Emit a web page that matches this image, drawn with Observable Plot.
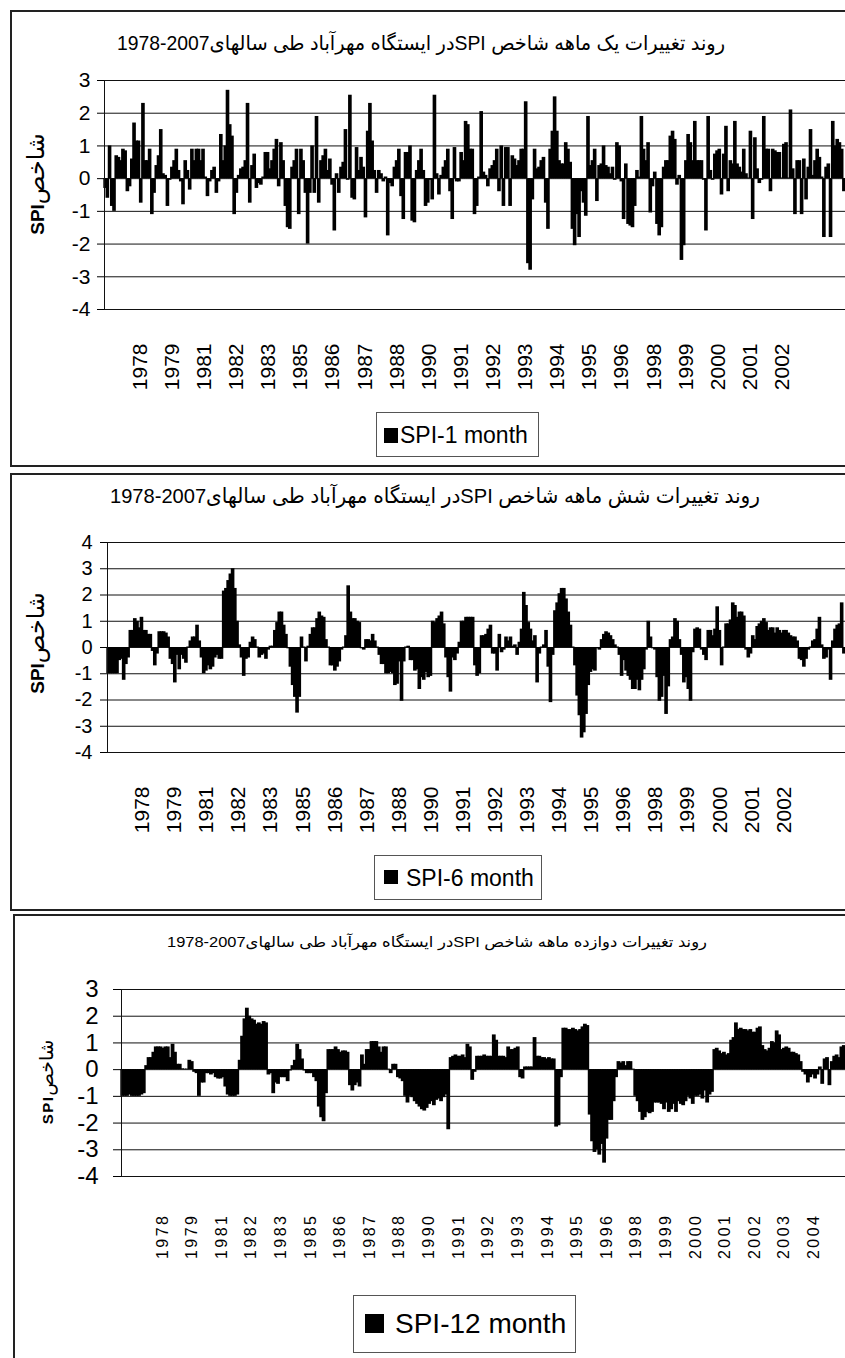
<!DOCTYPE html>
<html><head><meta charset="utf-8">
<script src="https://cdn.jsdelivr.net/npm/d3@7"></script>
<script src="https://cdn.jsdelivr.net/npm/@observablehq/plot@0.6"></script>
<style>
html,body{margin:0;padding:0;background:#fff;}
body{width:845px;height:1358px;overflow:hidden;position:relative;font-family:"Liberation Sans",Arial,"DejaVu Sans",sans-serif;color:#000;}
.box{position:absolute;border:2px solid #222;box-sizing:border-box;}
.title{position:absolute;white-space:nowrap;direction:rtl;line-height:1;}
.title .num{direction:ltr;unicode-bidi:isolate;}
.ytitle{position:absolute;white-space:nowrap;direction:ltr;line-height:1;transform:translate(-50%,-50%) rotate(-90deg);}
.ytitle .fa{font-size:1.25em;}
.legend{position:absolute;border:1px solid #555;box-sizing:border-box;background:#fff;}
.legend .sw{position:absolute;background:#000;}
.legend .lt{position:absolute;white-space:nowrap;line-height:1;}
</style></head><body>
<div class="box" style="left:10px;top:10px;width:900px;height:457px"></div>
<div class="box" style="left:10px;top:473px;width:900px;height:438px"></div>
<div class="box" style="left:13px;top:914px;width:900px;height:500px"></div>

<div class="title" data-w="608" style="left:421px;top:33px;font-size:20px">روند تغییرات یک ماهه شاخص SPIدر ایستگاه مهرآباد طی سالهای<span class="num">1978-2007</span></div>
<div class="title" data-w="650" style="left:435px;top:485px;font-size:21px">روند تغییرات شش ماهه شاخص SPIدر ایستگاه مهرآباد طی سالهای<span class="num">1978-2007</span></div>
<div class="title" data-w="540" style="left:437px;top:934px;font-size:15px">روند تغییرات دوازده ماهه شاخص SPIدر ایستگاه مهرآباد طی سالهای<span class="num">1978-2007</span></div>

<div class="ytitle" style="left:36px;top:184px;font-size:19px"><b>SPI</b><span class="fa">شاخص</span></div>
<div class="ytitle" style="left:36px;top:643px;font-size:19px"><b>SPI</b><span class="fa">شاخص</span></div>
<div class="ytitle" style="left:47px;top:1082px;font-size:15px;letter-spacing:1.5px"><b>SPI</b><span class="fa">شاخص</span></div>

<div class="legend" style="left:376px;top:412px;width:163px;height:45px">
  <div class="sw" style="left:7px;top:15px;width:14px;height:15px"></div>
  <div class="lt" style="left:23px;top:11px;font-size:23px">SPI-1 month</div>
</div>
<div class="legend" style="left:374px;top:855px;width:168px;height:45px">
  <div class="sw" style="left:9px;top:14px;width:14px;height:14px"></div>
  <div class="lt" style="left:31px;top:11px;font-size:23px">SPI-6 month</div>
</div>
<div class="legend" style="left:353px;top:1295px;width:223px;height:58px">
  <div class="sw" style="left:11px;top:18px;width:19px;height:19px"></div>
  <div class="lt" style="left:41px;top:14px;font-size:28px">SPI-12 month</div>
</div>

<script>
const yearLabels = ["1978","1979","1981","1982","1983","1985","1986","1987","1988","1990","1991","1992","1993","1994","1995","1996","1998","1999","2000","2001","2002"];
const yearLabels12 = ["1978","1979","1981","1982","1983","1985","1986","1987","1988","1990","1991","1992","1993","1994","1995","1996","1998","1999","2000","2001","2002","2003","2004"];
const yTicks7 = [-4,-3,-2,-1,0,1,2,3];
const yTicks8 = [-4,-3,-2,-1,0,1,2,3,4];

const spi1 = [-0.3,-0.6,1.0,-0.85,-1.0,0.7,0.65,0.55,0.9,0.85,-0.4,-0.25,0.6,1.7,1.15,1.15,-0.75,2.3,0.55,0.55,
0.9,-1.1,-0.45,0.4,0.7,1.5,0.15,0.1,-0.85,-0.05,0.35,0.55,0.9,0.25,-0.1,-0.8,0.55,0.25,-0.35,0.9,
0.55,0.9,0.9,0.55,0.9,0.05,-0.55,-0.1,0.25,0.35,-0.45,-0.1,1.35,0.55,1.0,2.7,1.65,1.3,-1.1,-0.45,
0.1,0.3,0.35,0.55,2.3,-0.75,0.4,0.75,-0.3,-0.15,-0.2,0.05,0.8,0.8,0.3,0.55,0.9,1.2,-0.25,1.1,
0.55,-0.85,-1.5,-1.55,0.35,0.55,0.9,-1.1,0.9,0.55,-0.45,-2.0,-0.45,1.0,-0.45,1.9,-0.75,0.55,0.7,0.9,
0.25,0.6,-0.2,-1.6,0.15,-0.45,0.35,0.5,1.5,-0.05,2.55,-0.6,-0.65,0.95,0.25,0.65,0.35,-1.2,1.45,2.3,
1.15,0.25,-0.45,0.25,0.15,-0.1,0.05,-1.75,-0.15,-0.25,0.35,0.55,0.9,-0.55,-1.25,0.8,0.8,1.0,-1.3,-1.35,
0.25,0.55,0.9,0.25,-0.85,-0.75,-0.05,-0.65,2.55,0.15,-0.5,0.1,0.35,0.55,0.9,-0.4,-1.25,0.95,-0.1,-0.1,
0.8,0.55,1.75,1.65,0.9,0.9,-1.1,-0.85,0.05,2.05,0.2,0.1,-0.25,0.3,0.4,0.55,0.9,-0.4,1.0,-0.85,
0.95,0.95,-0.85,0.7,0.6,0.4,0.55,0.9,0.9,2.35,-2.6,-2.8,-0.65,0.9,0.3,0.35,0.55,0.65,-0.75,-1.55,
0.9,1.45,2.5,1.45,0.55,0.45,0.45,1.1,0.9,0.5,-1.55,-2.05,-1.1,-1.8,-0.4,-0.75,-1.15,1.9,0.4,0.55,
0.9,-0.7,0.4,0.45,1.0,0.4,0.35,0.15,0.35,-0.05,1.1,1.0,-0.1,-1.25,0.45,-1.4,-1.45,-1.5,-0.85,0.25,
0.05,1.9,0.9,0.55,1.1,-1.05,-0.25,0.2,-1.4,-1.75,-1.5,0.35,0.55,0.55,1.3,1.45,1.2,-0.2,0.1,-2.5,
-2.05,0.55,1.35,1.1,0.55,1.75,0.55,0.55,0.55,-0.05,-1.6,1.9,0.25,-0.05,0.75,0.85,0.9,-0.5,0.75,1.6,
-0.4,0.55,0.45,1.75,0.45,0.35,0.2,0.9,0.15,0.02,1.45,-1.25,1.25,0.3,-0.15,-0.05,1.9,0.9,0.9,-0.4,
0.9,0.85,0.8,0.8,0.02,1.05,1.1,0.02,2.1,0.3,-1.1,0.55,0.55,-1.1,0.6,-0.65,0.35,1.5,0.1,0.55,
0.9,0.65,0.05,-1.8,0.35,0.45,-1.8,1.75,1.0,1.2,1.1,0.9,-0.4];

const spi6 = [-1,-1,-1,-1,-1,-0.5,-0.45,-1.25,-0.65,-0.4,0.65,0.65,1.1,1,0.75,1.15,0.65,0.65,0.5,0.5,
-0.15,-0.7,-0.25,0.6,0.6,0.6,0.55,0.4,-0.45,-0.65,-1.35,-0.3,-0.85,-0.3,-0.45,-0.6,0.02,0.25,0.4,0.4,
0.85,0.25,-0.4,-1,-0.9,-0.7,-0.85,-0.75,-0.4,-0.3,-0.45,-0.45,2.15,2.25,2.55,2.8,3,2.25,1,0.1,
-0.4,-1.1,-0.45,-0.4,0.2,0.4,0.3,0.02,-0.4,-0.3,-0.25,-0.45,-0.1,0.05,0.05,0.65,0.95,1.35,1.35,0.85,
0.5,-0.05,-0.75,-1.45,-1.9,-2.5,-1.9,0.4,0.02,-0.55,0.05,0.5,0.75,0.75,1.1,1.35,1.2,1.15,0.3,0.02,
-0.7,-0.7,-0.9,-0.75,-0.55,-0.1,0.02,0.45,2.35,1.35,1.1,1.1,1,0.95,-0.05,-0.1,0.3,0.3,0.25,0.5,
0.25,0.02,-0.3,-0.65,-0.65,-1,-1,-0.95,-1,-1.45,-1.4,-0.55,-2.05,-0.55,0.02,0.05,-0.5,-0.5,-0.9,-0.85,
-1.6,-1.15,-1.25,-0.95,-1.15,-1.1,1,0.95,1.1,1.2,1.35,0.9,-0.4,-1.15,-1.7,-0.4,-0.5,-0.25,0.2,1,
1,1.15,1.15,
1.15,1.15,-0.7,-1.1,-1,0.45,0.45,0.5,0.7,0.85,-0.25,-0.25,-0.9,0.5,-0.2,-0.1,0.4,0.25,0.4,0.05,
0.1,-0.3,0.2,0.7,2.1,1.6,0.95,0.7,0.25,0.45,-1.35,-0.25,0.02,0.1,0.65,-0.75,-2.1,-0.3,1.4,1.7,
2.05,2.25,2.25,1.85,1.35,0.85,0.02,-0.7,-1.85,-2.6,-3.45,-3.25,-2.55,-1.45,-0.95,-0.85,-0.9,-0.05,-0.1,0.3,
0.5,0.6,0.55,0.45,0.3,0.1,0.02,-0.3,-1.1,-0.5,-0.9,-1.1,-1.25,-1.6,-1.6,-1.25,-1.65,-1.25,-0.85,-0.1,
1,0.4,-0.05,-0.1,-1.15,-2.05,-1.9,-1.1,-2.55,-1.5,0.3,0.4,1.1,1,0.3,-0.3,-1.35,-1.15,-1.6,-2.05,
-0.2,0.7,0.75,0.7,-0.1,-0.3,-0.5,0.65,0.65,0.45,0.7,1.55,0.65,-0.7,0.02,0.9,0.9,1.05,1.7,1.6,
1.15,1.35,1.35,1.2,-0.1,-0.4,-0.25,0.45,0.3,0.8,0.9,1,1.1,0.95,0.65,0.75,0.75,0.55,0.75,0.65,
0.55,0.65,0.65,0.55,0.45,0.4,0.4,0.25,-0.45,-0.5,-0.75,-0.45,-0.1,0.02,0.25,0.3,0.7,1.15,0.1,-0.45,
-0.4,-0.1,-1.25,0.25,0.7,0.85,0.9,1.7,-0.25];

const spi12 = [-1,-1,-1,-0.95,-1,-1,-1,-1,-0.95,-0.9,
0.15,0.45,0.45,0.65,0.85,0.85,0.85,0.8,0.85,0.85,
0.45,0.95,0.65,0.2,0.2,0.03,0.02,0.02,0.35,0.3,
-0.1,-0.15,-1,-0.5,-0.5,-0.15,-0.15,-0.2,-0.15,-0.3,-0.35,-0.35,-0.3,-0.65,-0.95,-1,-1,-1,-0.95,
0.35,1.25,1.9,2.3,2,1.9,1.85,1.7,1.75,1.7,1.8,1.75,
-0.2,-0.15,-0.9,-0.5,-0.55,-0.3,-0.3,-0.3,-0.45,-0.05,
0.15,0.35,0.95,0.75,0.4,
-0.05,-0.15,-0.15,-0.15,-0.3,-0.45,-1.4,-1.8,-1.95,-0.9,
0.75,0.75,0.75,0.85,0.75,0.65,0.7,0.7,0.65,
-0.6,-0.8,-0.6,-0.5,-0.65,
0.55,0.2,0.75,0.75,1.05,1.05,1.05,0.85,0.65,0.85,0.85,0.02,-0.15,0.2,0.2,
-0.3,-0.35,-0.45,-1,-1.25,-1,
-1.05,-1.2,-1.3,-1.4,-1.5,-1.55,-1.45,-1.3,-1.2,-1.35,-1.15,-1.1,-1.2,-1.05,-0.95,-2.25,
0.45,0.5,0.55,0.5,0.5,0.55,0.45,0.95,0.85,-0.4,-0.1,
0.5,0.5,0.5,0.55,0.5,0.5,0.5,1.3,1.1,0.5,0.5,0.5,0.45,0.85,0.75,0.75,0.8,0.85,
-0.3,-0.35,0.1,0.1,0.1,0.1,1.2,0.5,0.5,0.45,0.45,0.4,0.45,0.4,0.4,
-2.15,-2.1,-0.3,
1.55,1.55,1.5,1.5,1.55,1.5,1.45,1.5,1.6,1.7,1.65,
-1.7,-2.7,-3.1,-3,-3.2,-2.8,-3.5,-2.6,-1.9,-1.9,-1.2,-0.3,
0.3,0.25,0.3,0.15,0.3,0.3,0.02,
-1,-1.2,-1.6,-1.9,-1.8,-1.6,-1.65,-1.6,-1.25,-1.25,-1.25,-1.3,-1.5,-1.25,-1.6,-1.5,-1.3,-1.6,-1.2,-1.3,
-1.35,-1.2,-1,-1.1,-1.3,-1,-1,-0.95,-1.1,-0.8,-1.25,-0.95,-0.85,
0.75,0.8,0.7,0.6,0.65,0.55,0.6,1.1,1.2,1.75,1.5,1.55,1.5,1.5,1.45,1.5,1.4,1.4,1.55,1.6,
0.9,0.75,0.7,0.8,1.05,1,1.45,1.3,0.75,0.8,0.85,0.8,0.65,0.65,0.6,0.55,0.3,
-0.1,-0.2,-0.5,-0.3,-0.2,-0.35,-0.2,0.1,-0.55,0.4,0.45,-0.6,0.3,0.5,0.55,0.45,0.85,0.9];

const FONT = '"Liberation Sans", Arial, "DejaVu Sans", sans-serif';

function drawPanel(o) {
  const n = o.values.length;
  const ticks = o.labels.map((t, k) => ({idx: o.labelStart + k * o.labelStep, t}));
  const svg = Plot.plot({
    width: 845, height: o.height,
    marginLeft: o.marginLeft, marginRight: 0, marginTop: o.marginTop, marginBottom: o.marginBottom,
    style: {fontFamily: FONT, color: "#000", background: "transparent", overflow: "visible", fontSize: o.yFont + "px"},
    x: {domain: [0, n], axis: null},
    y: {domain: [o.yTicks[0], o.yTicks[o.yTicks.length - 1]], ticks: o.yTicks, tickSize: o.tickSize, tickPadding: o.tickPadding, tickFormat: d => String(d), label: null},
    marks: [
      Plot.ruleY(o.yTicks, {stroke: "#111", strokeWidth: 1}),
      Plot.rectY(o.values, {x1: (d, i) => i, x2: (d, i) => i + 1, y: d => d, fill: "#000", insetLeft: -0.7, insetRight: -0.7}),
      Plot.ruleX([0], {stroke: "#111", strokeWidth: 1}),
      Plot.text(ticks, {x: "idx", text: "t", frameAnchor: "bottom", rotate: -90, textAnchor: "end", lineAnchor: "middle", dy: o.labelDy, fontSize: o.labelFont})
    ]
  });
  svg.style.position = "absolute";
  svg.style.left = "0px";
  svg.style.top = o.top + "px";
  if (o.labelSpacing) {
    svg.querySelectorAll('g[aria-label="text"] text').forEach(t => t.style.letterSpacing = o.labelSpacing + "px");
  }
  document.body.appendChild(svg);
}

drawPanel({values: spi1, yTicks: yTicks7, top: 60, height: 345, marginTop: 20, marginBottom: 96, marginLeft: 104,
  labels: yearLabels, labelStart: 16, labelStep: 14.43, labelDy: 34, labelFont: 21, yFont: 21, tickSize: 7, tickPadding: 7});
drawPanel({values: spi6, yTicks: yTicks8, top: 520, height: 320, marginTop: 22, marginBottom: 88, marginLeft: 107,
  labels: yearLabels, labelStart: 15.7, labelStep: 14.43, labelDy: 34, labelFont: 21, yFont: 20, tickSize: 7, tickPadding: 8});
drawPanel({values: spi12, yTicks: yTicks7, top: 960, height: 305, marginTop: 29, marginBottom: 89, marginLeft: 121,
  labels: yearLabels12, labelStart: 17.1, labelStep: 12.35, labelDy: 37, labelFont: 16, labelSpacing: 2.5, yFont: 24, tickSize: 8, tickPadding: 15});

document.querySelectorAll(".title").forEach(el => {
  const w = el.getBoundingClientRect().width;
  const target = +el.dataset.w;
  let s = target / w;
  s = Math.max(0.6, Math.min(1.6, s));
  el.style.transform = `translateX(-50%) scaleX(${s})`;
});
</script>
</body></html>
